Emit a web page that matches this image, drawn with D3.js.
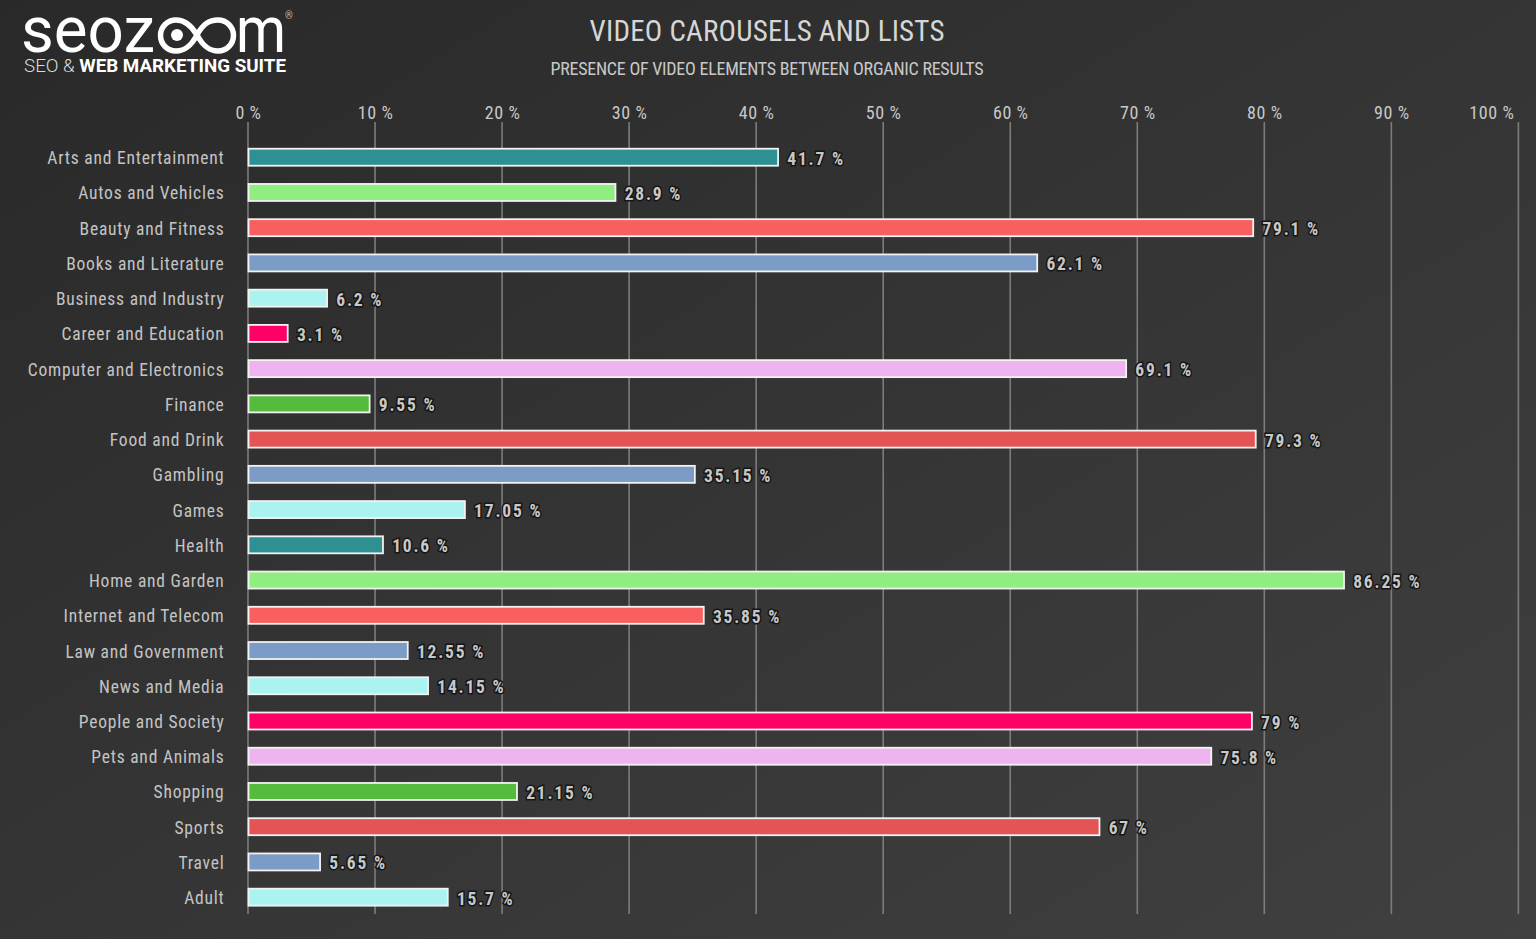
<!DOCTYPE html>
<html><head><meta charset="utf-8">
<script src="https://cdn.jsdelivr.net/npm/d3@7/dist/d3.min.js"></script>
<style>
html,body{margin:0;padding:0;background:#333;overflow:hidden}
svg{display:block}
</style></head><body>
<svg id="c" width="1536" height="939"></svg>
<script>
const categories=["Arts and Entertainment","Autos and Vehicles","Beauty and Fitness","Books and Literature","Business and Industry","Career and Education","Computer and Electronics","Finance","Food and Drink","Gambling","Games","Health","Home and Garden","Internet and Telecom","Law and Government","News and Media","People and Society","Pets and Animals","Shopping","Sports","Travel","Adult"];
const values=[41.7,28.9,79.1,62.1,6.2,3.1,69.1,9.55,79.3,35.15,17.05,10.6,86.25,35.85,12.55,14.15,79,75.8,21.15,67,5.65,15.7];
const colors=["#2e9090","#90ee80","#fa5f5f","#7a9cc6","#aaf3f0","#ff0066","#eeb4f0","#55bb3c","#e35555","#7a9cc6","#aaf3f0","#2e9090","#90ee80","#fa5f5f","#7a9cc6","#aaf3f0","#ff0066","#eeb4f0","#55bb3c","#e35555","#7a9cc6","#aaf3f0"];
const ticks=[0,10,20,30,40,50,60,70,80,90,100];
const NARROW='"Liberation Sans Narrow","Roboto Condensed","DejaVu Sans Condensed",Roboto,sans-serif';

const svg=d3.select("#c");
const defs=svg.append("defs");
const g=defs.append("linearGradient").attr("id","bg").attr("x1","0").attr("y1","0").attr("x2","1").attr("y2","1");
g.append("stop").attr("offset","0").attr("stop-color","#292929");
g.append("stop").attr("offset","1").attr("stop-color","#404040");
svg.append("rect").attr("width",1536).attr("height",939).attr("fill","url(#bg)");

const x=d3.scaleLinear().domain([0,100]).range([248,1518.4]);
const y=d3.scaleBand().domain(categories).range([139.6,914.8]);

// Top axis with full-height gridlines
const ax=svg.append("g").attr("transform","translate(0,122)")
  .call(d3.axisTop(x).tickValues(ticks).tickFormat(d=>d+" %").tickSize(0).tickPadding(2));
ax.select(".domain").remove();
ax.selectAll("text").attr("fill","#c8c8c8").attr("font-family",NARROW).attr("font-size",18).attr("letter-spacing",0.6).attr("dy",-1)
  .attr("dx",d=>d===100?-27:0);
svg.append("g").selectAll("line").data(ticks).join("line")
  .attr("x1",d=>x(d)).attr("x2",d=>x(d)).attr("y1",122).attr("y2",914)
  .attr("stroke","#7c7c7c").attr("stroke-width",1.6);

// Category axis
const ay=svg.append("g").attr("transform","translate(224.5,0)")
  .call(d3.axisLeft(y).tickSize(0).tickPadding(0));
ay.select(".domain").remove();
ay.selectAll("text").attr("fill","#c4c4c4").attr("font-family",NARROW).attr("font-size",17.5).attr("letter-spacing",0.78).attr("dy",7);

// Bars
const barH=17;
svg.append("g").selectAll("rect").data(values).join("rect")
  .attr("x",x(0)+0.5)
  .attr("y",(d,i)=>y(categories[i])+y.bandwidth()/2-barH/2)
  .attr("width",d=>x(d)-x(0)-0.2)
  .attr("height",barH)
  .attr("fill",(d,i)=>colors[i])
  .attr("stroke","#f2f2f2").attr("stroke-width",1.8);

// Value labels
svg.append("g").selectAll("text").data(values).join("text")
  .attr("x",d=>x(d)+9.5)
  .attr("y",(d,i)=>y(categories[i])+y.bandwidth()/2+7.5)
  .text(d=>d+" %")
  .attr("fill","#c8c8c8").attr("stroke","#161616").attr("stroke-width",3).attr("paint-order","stroke")
  .attr("font-family",NARROW).attr("font-weight",700).attr("font-size",17.5).attr("letter-spacing",1.8);

// Titles
svg.append("text").attr("x",767).attr("y",41).attr("text-anchor","middle")
  .attr("fill","#d6d6d6").attr("font-family",NARROW).attr("font-size",29)
  .attr("textLength",355).attr("lengthAdjust","spacing").text("VIDEO CAROUSELS AND LISTS");
svg.append("text").attr("x",767).attr("y",75).attr("text-anchor","middle")
  .attr("fill","#c8c8c8").attr("font-family",NARROW).attr("font-size",18)
  .attr("textLength",433).attr("lengthAdjust","spacing").text("PRESENCE OF VIDEO ELEMENTS BETWEEN ORGANIC RESULTS");

// Logo
const logo=svg.append("g").attr("fill","#fff");
logo.append("text").attr("x",21).attr("y",52).attr("font-family","Roboto,sans-serif").attr("font-weight",400)
  .attr("font-size",65).attr("textLength",134).attr("lengthAdjust","spacingAndGlyphs").text("seoz");
logo.append("path").attr("fill","none").attr("stroke","#fff").attr("stroke-width",5.5)
  .attr("d","M197 35c-6-10-12-15-21-15a15 15 0 0 0 0 31c9 0 15-5 21-16s12-15 21-15a15 15 0 0 1 0 31c-9 0-15-5-21-16z");
logo.append("circle").attr("cx",177).attr("cy",35).attr("r",6);
logo.append("text").attr("x",236).attr("y",52).attr("font-family","Roboto,sans-serif").attr("font-weight",400)
  .attr("font-size",65).attr("textLength",50).attr("lengthAdjust","spacingAndGlyphs").text("m");
logo.append("text").attr("x",285).attr("y",19).attr("font-family","Roboto,sans-serif").attr("font-size",10).attr("fill","#bbb").text("®");
const sub=logo.append("text").attr("x",24).attr("y",71.5).attr("font-family","Roboto,sans-serif").attr("font-size",17.5)
  .attr("textLength",262).attr("lengthAdjust","spacingAndGlyphs");
sub.append("tspan").attr("font-weight",300).attr("fill","#ddd").text("SEO & ");
sub.append("tspan").attr("font-weight",700).text("WEB MARKETING SUITE");
</script>
</body></html>
